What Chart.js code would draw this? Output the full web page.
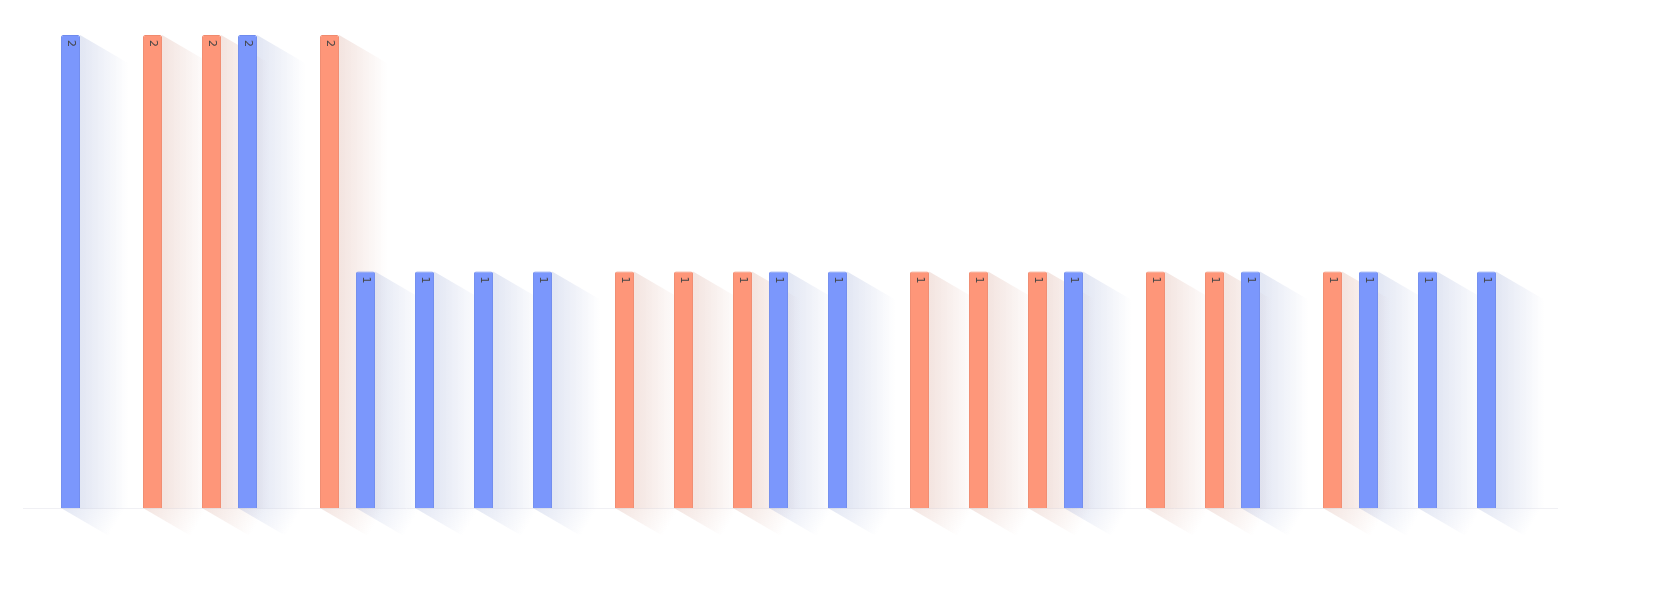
<!DOCTYPE html>
<html>
<head>
<meta charset="utf-8">
<script src="https://cdn.jsdelivr.net/npm/chart.js@4"></script>
<style>
  html, body { margin: 0; padding: 0; background: #fff; }
  #wrap { width: 1660px; height: 601px; }
</style>
</head>
<body>
<div id="wrap"><canvas id="chart"></canvas></div>
<script>
const names = ['Franz', 'Hans', 'Karl', 'Robert', 'Otto', 'Adam', 'Rudolf', 'Alexander', 'Alfred',
  'Bernd', 'Christian', 'Dieter', 'Emil', 'Florian', 'Georg', 'Heinrich', 'Ingo', 'Jakob',
  'Kurt', 'Lukas', 'Martin', 'Norbert', 'Daniel', 'Erich', 'Erwin', 'Simon'];
const salmonValues = [null, null, 2, 2, null, 2, null, null, null, null, 1, 1, 1, null, null,
  1, 1, 1, null, 1, 1, null, 1, null, null, null];
const blueValues = [2, null, null, 2, null, 1, 1, 1, 1, null, null, null, 1, 1, null,
  null, null, 1, null, null, 1, null, 1, 1, 1, null];

// skewed fading shadow behind each bar + rotated value labels
const shadowPlugin = {
  id: 'shadows',
  beforeDatasetsDraw(chart) {
    const ctx = chart.ctx;
    const base = chart.scales.y.getPixelForValue(0);
    chart.data.datasets.forEach((ds, di) => {
      const rgb = ds.shadow;
      chart.getDatasetMeta(di).data.forEach((bar, i) => {
        if (ds.data[i] == null) return;
        const right = bar.x + bar.width / 2;
        const left = bar.x - bar.width / 2;
        const w = 48, drop = 28;
        let g = ctx.createLinearGradient(right, 0, right + w, 0);
        g.addColorStop(0, `rgba(${rgb},0.22)`);
        g.addColorStop(1, `rgba(${rgb},0)`);
        ctx.fillStyle = g;
        ctx.beginPath();
        ctx.moveTo(right, bar.y);
        ctx.lineTo(right + w, bar.y + drop);
        ctx.lineTo(right + w, base);
        ctx.lineTo(right, base);
        ctx.closePath();
        ctx.fill();
        g = ctx.createLinearGradient(left, base, left + w, base + drop);
        g.addColorStop(0, `rgba(${rgb},0.22)`);
        g.addColorStop(1, `rgba(${rgb},0)`);
        ctx.fillStyle = g;
        ctx.beginPath();
        ctx.moveTo(left, base);
        ctx.lineTo(right + w, base);
        ctx.lineTo(right + w, base + drop);
        ctx.lineTo(left + w, base + drop);
        ctx.closePath();
        ctx.fill();
      });
    });
  },
  afterDatasetsDraw(chart) {
    const ctx = chart.ctx;
    ctx.save();
    ctx.fillStyle = '#444';
    ctx.font = '11px "DejaVu Sans"';
    chart.data.datasets.forEach((ds, di) => {
      chart.getDatasetMeta(di).data.forEach((bar, i) => {
        if (ds.data[i] == null) return;
        ctx.save();
        ctx.translate(bar.x, bar.y + 5);
        ctx.rotate(Math.PI / 2);
        ctx.textAlign = 'left';
        ctx.textBaseline = 'middle';
        ctx.fillText(String(ds.data[i]), 0, 0);
        ctx.restore();
      });
    });
    ctx.restore();
  }
};

new Chart(document.getElementById('chart'), {
  type: 'bar',
  data: {
    labels: names,
    datasets: [
      { data: salmonValues, backgroundColor: '#fe9679', borderColor: '#f08a6e', shadow: '200,130,110' },
      { data: blueValues, backgroundColor: '#7b97fc', borderColor: '#6f8bee', shadow: '120,140,200' }
    ]
  },
  options: {
    responsive: true,
    maintainAspectRatio: false,
    animation: false,
    devicePixelRatio: 1,
    layout: { padding: { left: 23, right: 103, top: 35, bottom: 0 } },
    datasets: { bar: { categoryPercentage: 1.22, barPercentage: 0.53, borderWidth: 1, borderRadius: 2, borderSkipped: 'bottom' } },
    plugins: { legend: { display: false }, tooltip: { enabled: false } },
    scales: {
      x: {
        grid: { display: false },
        border: { color: '#f0f0f4' },
        ticks: { color: '#ffffff', maxRotation: 0, autoSkip: false, font: { size: 12 }, padding: 8 },
        afterFit(s) { s.height = 93; }
      },
      y: { display: false, min: 0, max: 2 }
    }
  },
  plugins: [shadowPlugin]
});
</script>
</body>
</html>
